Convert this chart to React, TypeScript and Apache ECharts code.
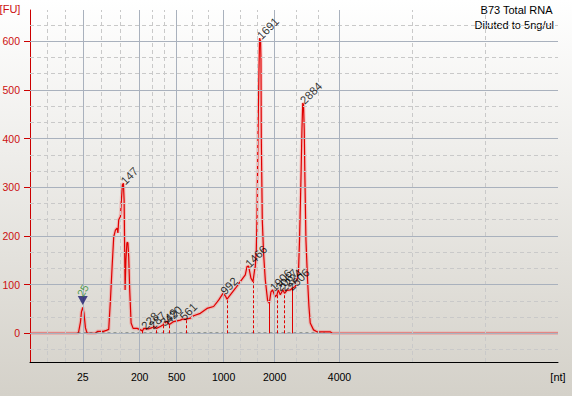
import React, { useEffect, useRef } from 'react';
import * as echarts from 'echarts';

// Ladder (x axis): migration time (s) of each ladder size
const ladderSizes = ['25', '200', '500', '1000', '2000', '4000'];
const ladderTimes = [22.28, 27.98, 31.68, 36.38, 41.48, 47.98];

// Y ticks
const yTicks = [0, 100, 200, 300, 400, 500, 600];

// Electropherogram trace: time (s) and fluorescence (FU)
const traceTime = [
  17.0, 21.65, 21.85, 22.05, 22.15, 22.28, 22.4, 22.55, 22.7, 22.85,
  23.55, 23.75, 24.35, 24.65, 24.88, 25.05, 25.22, 25.38, 25.55, 25.72,
  25.8, 25.88, 26.05, 26.15, 26.25, 26.35, 26.42, 26.52, 26.6, 26.7,
  26.8, 26.88, 26.98, 27.12, 27.32, 27.72, 28.05, 28.25, 28.4, 28.85,
  29.15, 29.38, 29.65, 30.05, 30.3, 30.55, 30.72, 30.95, 31.38, 32.05,
  32.25, 32.62, 33.05, 33.38, 34.05, 34.72, 35.38, 35.88, 36.32, 36.55,
  36.72, 37.05, 37.55, 38.05, 38.55, 38.72, 38.88, 39.12, 39.32, 39.48,
  39.55, 39.65, 39.72, 39.82, 39.92, 39.98, 40.08, 40.12, 40.15, 40.25,
  40.38, 40.55, 40.78, 40.95, 41.12, 41.28, 41.55, 41.72, 41.85, 42.05,
  42.32, 42.48, 42.72, 43.05, 43.22, 43.55, 43.72, 43.88, 43.98, 44.12,
  44.22, 44.3, 44.38, 44.45, 44.52, 44.62, 44.78, 44.92, 45.05, 45.38,
  45.72, 47.05, 47.25, 69.85,
];
const traceFU = [
  0, 0, 1, 23, 44, 53, 42, 11, 1, 0,
  0, 4, 4, 6, 8, 68, 137, 198, 212, 216,
  206, 233, 240, 274, 305, 308, 274, 89, 150, 186,
  186, 157, 89, 21, 10, 10, 7, 5, 10, 9,
  11, 14, 10, 14, 17, 22, 24, 18, 24, 27,
  29, 29, 31, 36, 41, 51, 55, 68, 82, 77,
  70, 79, 92, 106, 120, 137, 138, 113, 106, 130,
  137, 171, 233, 404, 541, 606, 600, 562, 404, 233,
  164, 110, 68, 62, 85, 89, 75, 79, 89, 79,
  89, 82, 88, 89, 92, 96, 110, 130, 192, 315,
  418, 473, 469, 418, 315, 192, 110, 55, 21, 7,
  3, 3, 0, 0,
];

// Called peaks
const peakNames = ['147', '228', '287', '349', '420', '561', '992', '1466', '1691', '1906', '2067', '2224', '2506', '2884'];
const peakTime = [26.35, 28.4, 29.15, 30.3, 30.75, 32.25, 36.32, 38.8, 39.98, 41.28, 41.85, 42.32, 43.05, 44.3];
const peakFU = [308, 10, 11, 17, 23, 29, 82, 138, 606, 89, 89, 89, 90, 473];

// Peak boundary drop lines
const boundaryTime = [28.25, 29.65, 30.3, 30.95, 32.62, 36.78, 39.32, 40.93, 41.72, 42.48, 43.22];
const boundaryFU = [5, 10, 17, 18, 29, 71, 106, 62, 79, 82, 92];
const boundarySolid = [false, false, false, false, false, false, false, true, false, false, true];

// Marker
const markerName = '25';
const markerTime = 22.28;
const markerFU = 53;

// Analysis baseline
const baselineTime = [21.75, 46.5];

const FONT = 'Liberation Sans';
const RED = '#e00000';

export default function App() {
  const ref = useRef<HTMLDivElement>(null);
  useEffect(() => {
    const chart = echarts.init(ref.current!, null, { renderer: 'svg' });
    const trace = traceTime.map((t, i) => [t, traceFU[i]]);

    const solidGrid = { type: 'solid', color: '#a9b1bd', width: 1 };
    const dashGrid = { type: [4, 3], color: '#c9c9c9', width: 1 };

    const minorV: number[] = [ladderTimes[0] - 3.6, ladderTimes[0] - 1.8];
    for (let i = 0; i < ladderTimes.length - 1; i++) {
      const a = ladderTimes[i];
      const b = ladderTimes[i + 1];
      minorV.push(a + (b - a) / 3, a + (2 * (b - a)) / 3);
    }
    const last = ladderTimes[ladderTimes.length - 1];
    minorV.push(last + 7.3, last + 14.6);
    const minorH: number[] = [];
    for (let k = -1; k <= 19; k++) if (k % 3 !== 0) minorH.push((k * 100) / 3);

    const gridLines: any[] = [
      ...minorV.map((v) => ({ xAxis: v, lineStyle: dashGrid })),
      ...minorH.map((v) => ({ yAxis: v, lineStyle: dashGrid })),
      ...ladderTimes.map((v) => ({ xAxis: v, lineStyle: solidGrid })),
      ...yTicks.map((v) => ({ yAxis: v, lineStyle: solidGrid })),
    ];

    const dropLines = (solid: boolean) => {
      const out: any[] = [];
      boundaryTime.forEach((t, i) => {
        if (boundarySolid[i] !== solid) return;
        out.push([{ coord: [t, 0] }, { coord: [t, boundaryFU[i]] }]);
      });
      return out;
    };

    const labelFmt = (v: number) => {
      const i = ladderTimes.findIndex((t) => Math.abs(t - v) < 1e-6);
      return i >= 0 ? ladderSizes[i] : '';
    };

    chart.setOption({
      animation: false,
      grid: { left: 30, right: 14, top: 10, bottom: 34, containLabel: false, outerBoundsMode: 'none' },
      xAxis: {
        type: 'value',
        min: 17,
        max: 69.85,
        axisLine: { show: true, onZero: false, lineStyle: { color: '#000', width: 1 } },
        axisTick: { show: false },
        splitLine: { show: false },
        axisLabel: {
          customValues: ladderTimes,
          formatter: labelFmt,
          color: '#000',
          fontSize: 10.5,
          fontFamily: FONT,
          margin: 9,
        },
      },
      yAxis: {
        type: 'value',
        min: -59,
        max: 664,
        axisLine: { show: true, onZero: false, lineStyle: { color: '#cc0000', width: 1 } },
        axisTick: { show: true, length: 6, customValues: yTicks, lineStyle: { color: '#cc0000' } },
        axisLabel: { customValues: yTicks, color: '#cc1010', fontSize: 10.5, fontFamily: FONT, margin: 10 },
        splitLine: { show: false },
      },
      graphic: [
        { type: 'text', x: 10, y: 9, style: { text: '[FU]', fill: '#cc1010', font: `11px "${FONT}"`, align: 'center', verticalAlign: 'middle' } },
        { type: 'text', x: 552.5, y: 9.5, style: { text: 'B73 Total RNA', fill: '#000', font: `11px "${FONT}"`, align: 'right', verticalAlign: 'middle' } },
        { type: 'text', x: 554, y: 24.5, style: { text: 'Diluted to 5ng/ul', fill: '#000', font: `11px "${FONT}"`, align: 'right', verticalAlign: 'middle' } },
        { type: 'text', x: 558, y: 377, style: { text: '[nt]', fill: '#000', font: `11px "${FONT}"`, align: 'center', verticalAlign: 'middle' } },
      ],
      series: [
        {
          type: 'line',
          data: [],
          z: 1,
          silent: true,
          markLine: { silent: true, symbol: ['none', 'none'], label: { show: false }, animation: false, data: gridLines },
        },
        {
          type: 'line',
          data: trace,
          z: 2,
          silent: true,
          symbol: 'none',
          lineStyle: { color: 'rgba(255,90,90,0.28)', width: 3.5 },
        },
        {
          type: 'line',
          data: trace,
          z: 3,
          silent: true,
          symbol: 'none',
          color: RED,
          lineStyle: { color: RED, width: 1.2 },
          markLine: {
            silent: true,
            symbol: ['none', 'none'],
            label: { show: false },
            animation: false,
            lineStyle: { color: RED, width: 1, type: [3, 2], opacity: 1 },
            data: dropLines(false),
          },
        },
        {
          type: 'line',
          data: [],
          z: 3,
          silent: true,
          color: RED,
          markLine: {
            silent: true,
            symbol: ['none', 'none'],
            label: { show: false },
            animation: false,
            lineStyle: { color: RED, width: 1, type: 'solid', opacity: 1 },
            data: dropLines(true),
          },
        },
        {
          type: 'line',
          data: baselineTime.map((t) => [t, 0]),
          z: 4,
          silent: true,
          symbol: 'none',
          lineStyle: { color: '#4f5a57', width: 1.5, type: [3, 3] },
        },
        {
          type: 'scatter',
          z: 5,
          silent: true,
          symbolSize: 0,
          data: peakNames.map((n, i) => ({ name: n, value: [peakTime[i], peakFU[i]] })),
          label: {
            show: true,
            position: 'inside',
            formatter: (p: any) => p.name,
            rotate: 45,
            align: 'left',
            verticalAlign: 'middle',
            offset: [0, -1],
            color: '#000',
            fontSize: 11.5,
            fontFamily: FONT,
          },
        },
        {
          type: 'scatter',
          z: 6,
          silent: true,
          symbol: 'triangle',
          symbolRotate: 180,
          symbolSize: [10, 9],
          symbolOffset: [0, -7],
          itemStyle: { color: '#1c1c6e' },
          data: [[markerTime, markerFU]],
        },
        {
          type: 'scatter',
          z: 6,
          silent: true,
          symbolSize: 0,
          data: [{ name: markerName, value: [markerTime, markerFU] }],
          label: {
            show: true,
            position: 'inside',
            formatter: (p: any) => p.name,
            rotate: 60,
            align: 'center',
            verticalAlign: 'middle',
            offset: [14.7, -8.5],
            color: '#2e8b2e',
            fontSize: 11,
            fontFamily: FONT,
          },
        },
      ],
    });
    return () => chart.dispose();
  }, []);

  return (
    <div
      style={{
        position: 'fixed',
        left: 0,
        top: 0,
        width: 572,
        height: 396,
        background: 'linear-gradient(to bottom, #ffffff 0%, #eeedea 40%, #d4d1c9 100%)',
      }}
    >
      <div ref={ref} style={{ width: 572, height: 396 }} />
    </div>
  );
}
